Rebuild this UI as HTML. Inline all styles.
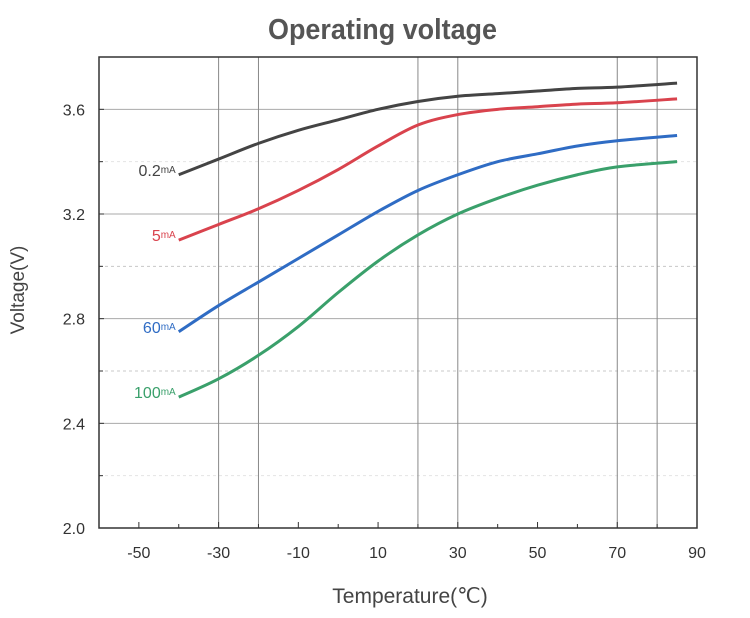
<!DOCTYPE html>
<html><head><meta charset="utf-8"><style>
body{margin:0;background:#fff;width:750px;height:613px;overflow:hidden;font-family:"Liberation Sans",sans-serif}
</style></head><body>
<svg id="chart" width="750" height="613" xmlns="http://www.w3.org/2000/svg">
<text x="268" y="39" textLength="229" lengthAdjust="spacingAndGlyphs" font-size="29" font-weight="bold" fill="#555">Operating voltage</text>
<text transform="translate(24,290) rotate(-90)" text-anchor="middle" font-size="19" fill="#444">Voltage(V)</text>
<text x="410" y="603" text-anchor="middle" font-size="21" fill="#444">Temperature(℃)</text>
<g id="grid"></g><g id="axes"></g><g id="series"></g>
</svg>
<script>
const xs=[-40,-30,-20,-10,0,10,20,30,40,50,60,70,85];
const v02=[3.35,3.41,3.47,3.52,3.56,3.60,3.63,3.65,3.66,3.67,3.68,3.685,3.70];
const v5=[3.10,3.16,3.22,3.29,3.37,3.46,3.54,3.58,3.60,3.61,3.62,3.625,3.64];
const v60=[2.75,2.85,2.94,3.03,3.12,3.21,3.29,3.35,3.40,3.43,3.46,3.48,3.50];
const v100=[2.50,2.57,2.66,2.77,2.90,3.02,3.12,3.20,3.26,3.31,3.35,3.38,3.40];
const xTicks=[-50,-30,-10,10,30,50,70,90];
const yTicks=[2.0,2.4,2.8,3.2,3.6];
const vGrid=[-30,-20,20,30,70,80];
const dashGrid=[2.2,2.6,3.0,3.4];
const NS="http://www.w3.org/2000/svg";
const L=99,R=697,T=57,B=528;
const X=v=>L+(v+60)/150*(R-L);
const Y=v=>B-(v-2.0)/1.8*(B-T);
function mk(tag,attrs,parent){const e=document.createElementNS(NS,tag);for(const k in attrs)e.setAttribute(k,attrs[k]);document.getElementById(parent).appendChild(e);return e;}
for(const t of yTicks){if(t===2.0)continue;
const l=mk('line',{x1:L,x2:R,y1:Y(t),y2:Y(t),stroke:'#aaa','stroke-width':1},'grid');

}
for(const t of dashGrid){
const l=mk('line',{x1:L,x2:R,y1:Y(t),y2:Y(t),stroke:t===3.4||t===2.2?'#e4e4e4':'#c8c8c8','stroke-width':1,'stroke-dasharray':'3,3'},'grid');

}
for(const t of vGrid){
const l=mk('line',{x1:X(t),x2:X(t),y1:T,y2:B,stroke:'#888','stroke-width':1},'grid');

}
const fr=mk('rect',{x:L,y:T,width:R-L,height:B-T,fill:'none',stroke:'#333','stroke-width':1.5},'axes');


for(const t of yTicks){
const tx=mk('text',{x:L-14,y:Y(t)+6,'text-anchor':'end','font-size':16,fill:'#333'},'axes');tx.textContent=t.toFixed(1);


mk('line',{x1:L,x2:L+5,y1:Y(t),y2:Y(t),stroke:'#333'},'axes');}
for(const t of dashGrid)mk('line',{x1:L,x2:L+4,y1:Y(t),y2:Y(t),stroke:'#333'},'axes');
for(let v=-60;v<=90;v+=10)mk('line',{x1:X(v),x2:X(v),y1:B,y2:B-(v%20===0?4:6),stroke:'#333'},'axes');
for(const t of xTicks){
const tx=mk('text',{x:X(t),y:B+30,'text-anchor':'middle','font-size':16,fill:'#333'},'axes');tx.textContent=t;

}
function path(ys){const p=xs.map((x,i)=>[X(x),Y(ys[i])]);let d='M'+p[0][0]+','+p[0][1];
for(let i=0;i<p.length-1;i++){const p0=p[i-1]||p[i],p1=p[i],p2=p[i+1],p3=p[i+2]||p2;
d+=' C'+(p1[0]+(p2[0]-p0[0])/6)+','+(p1[1]+(p2[1]-p0[1])/6)+' '+(p2[0]-(p3[0]-p1[0])/6)+','+(p2[1]-(p3[1]-p1[1])/6)+' '+p2[0]+','+p2[1];}return d;}
const series=[[v02,'#444','0.2','series-0-2ma'],[v5,'#d9434d','5','series-5ma'],[v60,'#2f6cc4','60','series-60ma'],[v100,'#3aa06b','100','series-100ma']];
for(const [ys,c,lab,name] of series){
const p=mk('path',{d:path(ys),fill:'none',stroke:c,'stroke-width':3},'series');


const t=mk('text',{x:X(-40)-3,y:Y(ys[0])+1,'text-anchor':'end','font-size':16,fill:c},'series');
t.innerHTML=lab+'<tspan font-size="10" dy="-3">mA</tspan>';

}
</script>
</body></html>
